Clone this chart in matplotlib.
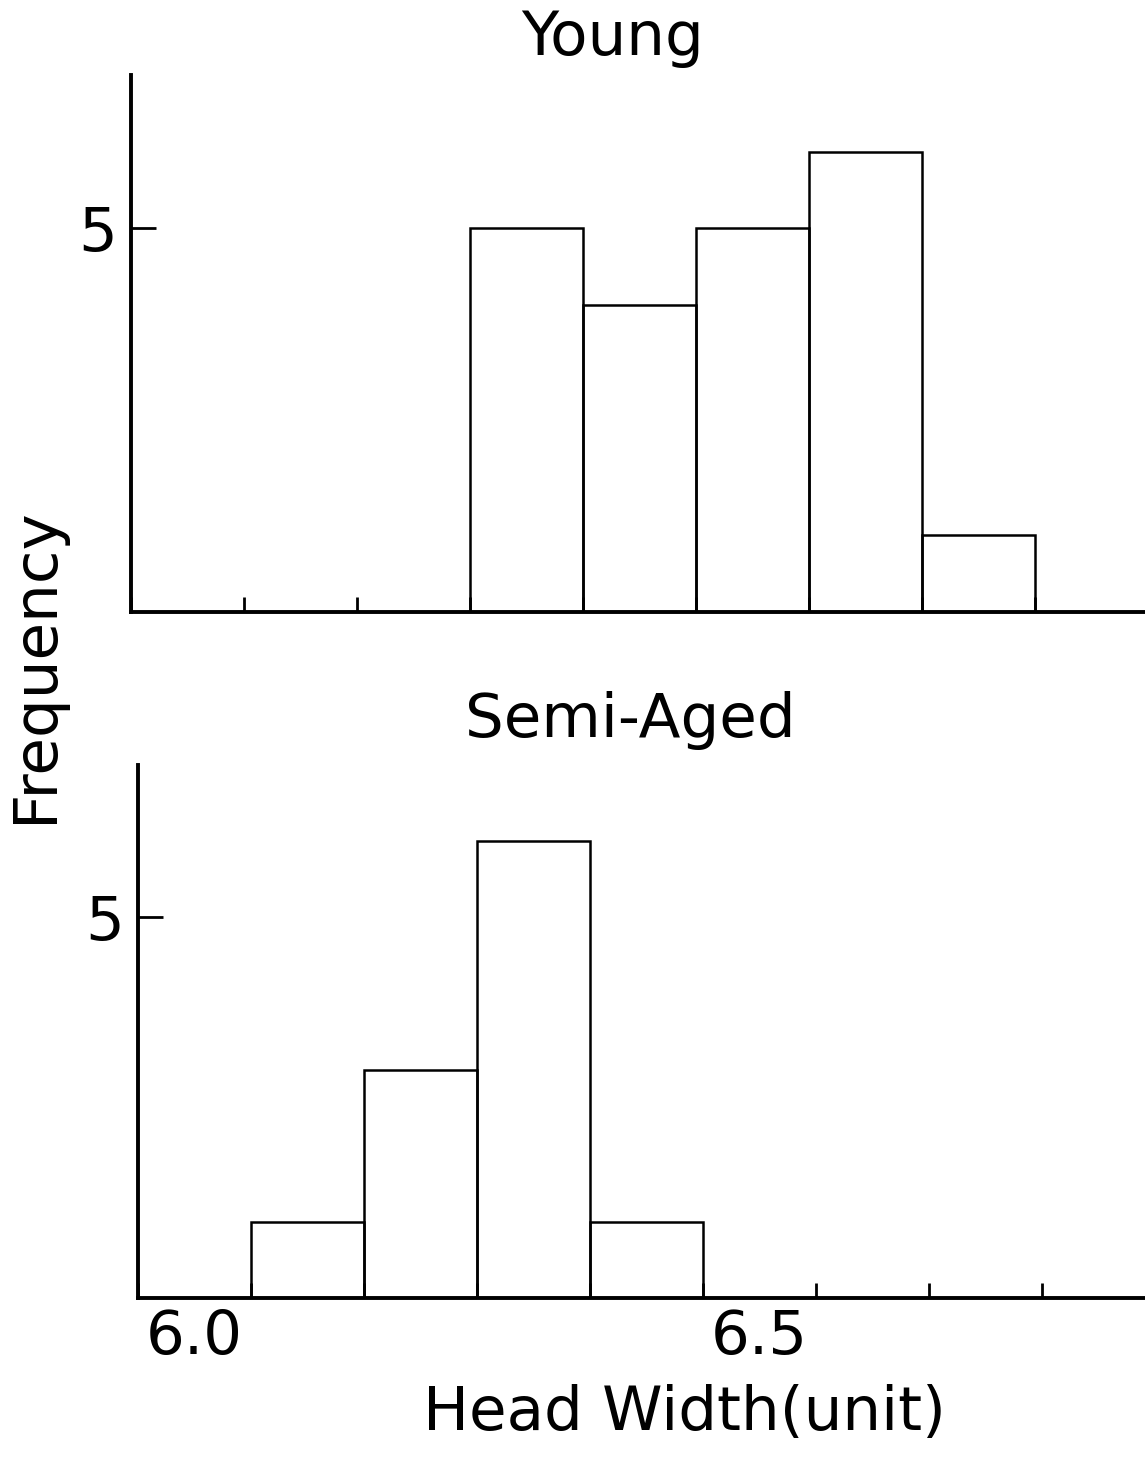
import matplotlib
matplotlib.use("Agg")
import matplotlib.pyplot as plt

# bin centers (head width, bin width 0.1) and counts
bin_centers = [6.0, 6.1, 6.2, 6.3, 6.4, 6.5, 6.6, 6.7, 6.8]
young_counts = [0, 0, 0, 5, 4, 5, 6, 1, 0]
semi_aged_counts = [0, 1, 3, 6, 1, 0, 0, 0, 0]
bin_width = 0.1

x_labels = ["6.0", "6.5"]
x_label_pos = [6.0, 6.5]
bin_edges = [5.95 + bin_width * i for i in range(10)]

plt.rcParams['font.family'] = ['DejaVu Sans']
FS = 44

fig = plt.figure(figsize=(11.45, 14.68), dpi=100)


def draw_panel(ax, counts, show_xlabels):
    xs = [c for c, n in zip(bin_centers, counts) if n > 0]
    hs = [n for n in counts if n > 0]
    ax.bar(xs, hs, width=bin_width, fill=False, edgecolor="black",
           linewidth=1.8, zorder=3)
    ax.set_xlim(5.95, 6.85)
    ax.set_ylim(0, 7)
    for s in ["top", "right"]:
        ax.spines[s].set_visible(False)
    for s in ["left", "bottom"]:
        ax.spines[s].set_linewidth(2.8)
    ax.set_yticks([5])
    ax.set_yticklabels(["5"], fontsize=FS)
    ax.tick_params(axis="y", direction="in", length=18, width=2, pad=10)
    # tick marks sit on bin boundaries, labels at bin centers
    ax.set_xticks(bin_edges)
    ax.set_xticklabels([])
    ax.tick_params(axis="x", which="major", direction="in", length=11, width=2)
    if show_xlabels:
        ax.set_xticks(x_label_pos, labels=x_labels, minor=True)
        ax.tick_params(axis="x", which="minor", length=0, pad=7, labelsize=FS)


ax1 = fig.add_axes([131 / 1145, 1 - 612 / 1468, 1017 / 1145, 537 / 1468])
draw_panel(ax1, young_counts, False)

ax2 = fig.add_axes([138 / 1145, 1 - 1298 / 1468, 1017 / 1145, 533 / 1468])
draw_panel(ax2, semi_aged_counts, True)

fig.text(613 / 1145, 1 - 55 / 1468, "Young", fontsize=FS, ha="center", va="baseline")
fig.text(630 / 1145, 1 - 737 / 1468, "Semi-Aged", fontsize=FS, ha="center", va="baseline")
fig.text(36 / 1145, 1 - 665 / 1468, "Frequency", fontsize=FS, ha="center", va="center",
         rotation=90)
fig.text(684 / 1145, 1 - 1430 / 1468, "Head Width(unit)", fontsize=FS, ha="center",
         va="baseline")

fig.savefig("out.png", dpi=100)
